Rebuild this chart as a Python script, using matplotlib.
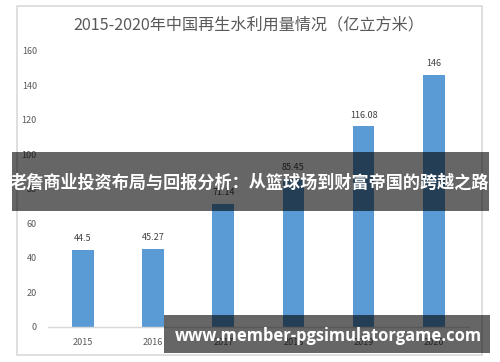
import matplotlib
matplotlib.use("Agg")
import matplotlib.pyplot as plt
from matplotlib.patches import Rectangle

plt.rcParams['font.family'] = ['Noto Sans CJK SC', 'DejaVu Sans']

years = ["2015", "2016", "2017", "2018", "2019", "2020"]
values = [44.5, 45.27, 71.14, 85.45, 116.08, 146]
value_labels = ["44.5", "45.27", "71.14", "85.45", "116.08", "146"]
yticks = [0, 20, 40, 60, 80, 100, 120, 140, 160]
title = "2015-2020年中国再生水利用量情况（亿立方米）"
banner = "老詹商业投资布局与回报分析：从篮球场到财富帝国的跨越之路"
url = "www.member-pgsimulatorgame.com"

W, H = 500, 362
fig = plt.figure(figsize=(W / 100, H / 100), dpi=100)
fig.patch.set_facecolor("white")

def fx(px):
    return px / W

def fy(py):
    return 1 - py / H

# chart border
fig.patches.append(Rectangle((fx(17), fy(355)), fx(482) - fx(17), fy(6) - fy(355),
                             transform=fig.transFigure, fill=False,
                             edgecolor="#d9d9d9", linewidth=1.2, zorder=0))

ax = fig.add_axes([fx(48), fy(326.7), fx(468.8) - fx(48), fy(50.7) - fy(326.7)])
x = list(range(len(years)))
bars = ax.bar(x, values, width=0.31, color="#5b9bd5", zorder=2)
for xi, v, lab in zip(x, values, value_labels):
    ax.annotate(lab, (xi, v), xytext=(0, 5), textcoords="offset points",
                ha="center", va="bottom", fontsize=6.5, color="#404040")

ax.set_xlim(-0.5, len(years) - 0.5)
ax.set_ylim(0, 160)
ax.set_yticks(yticks)
ax.set_yticklabels([str(t) for t in yticks], fontsize=6.5, color="#595959")
ax.set_xticks(x)
ax.set_xticklabels(years, fontsize=6.5, color="#595959")
ax.tick_params(axis="both", length=0)
ax.tick_params(axis="y", pad=8)
ax.tick_params(axis="x", pad=8)
for s in ["top", "right", "left"]:
    ax.spines[s].set_visible(False)
ax.spines["bottom"].set_color("#d9d9d9")
ax.spines["bottom"].set_linewidth(1.0)
ax.set_facecolor("none")

fig.text(fx(249), fy(25), title, ha="center", va="center", fontsize=11.6, color="#595959")

# banner overlay
fig.patches.append(Rectangle((fx(12), fy(211)), fx(489) - fx(12), fy(152) - fy(211),
                             transform=fig.transFigure, facecolor="black", alpha=0.6,
                             edgecolor="none", zorder=5))
fig.text(fx(249.5), fy(183), banner, ha="center", va="center", fontsize=12.3,
         fontweight="bold", color="white", zorder=6)

# url box
fig.patches.append(Rectangle((fx(164), fy(353)), fx(490) - fx(164), fy(315) - fy(353),
                             transform=fig.transFigure, facecolor="black", alpha=0.6,
                             edgecolor="none", zorder=5))
fig.text(fx(328), fy(336), url, ha="center", va="center", fontsize=11.9,
         fontweight="bold", color="white", family=["Open Sans", "DejaVu Sans"], zorder=6)

fig.savefig("out.png", dpi=100)
